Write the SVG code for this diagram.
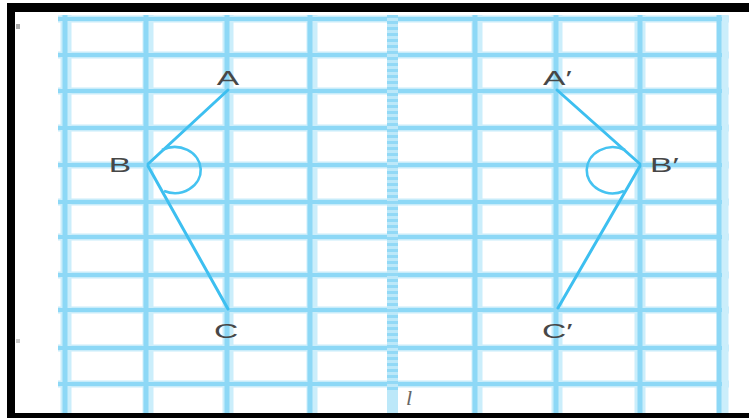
<svg xmlns="http://www.w3.org/2000/svg" width="749" height="418" viewBox="0 0 749 418">
<style>
.vh{stroke:#cbeefb;stroke-width:11;fill:none}
.vc{stroke:#8dd8f6;stroke-width:5;fill:none}
.hh{stroke:#c8ecfa;stroke-width:7;fill:none}
.hc{stroke:#8dd8f6;stroke-width:4;fill:none}
.seg{stroke:#3dbff0;stroke-width:3;fill:none;stroke-linecap:round}
.arc{stroke:#45c3f1;stroke-width:2.6;fill:none}
.lbl{font-family:"Liberation Sans",Arial,sans-serif;font-size:21px;fill:#474747;text-anchor:middle}
</style>
<rect width="749" height="418" fill="#fff"/>
<g id="grid">
<g class="hh">
<line x1="58" y1="19" x2="729" y2="19"/><line x1="58" y1="55" x2="729" y2="55"/><line x1="58" y1="91" x2="729" y2="91"/><line x1="58" y1="128" x2="729" y2="128"/><line x1="58" y1="165" x2="729" y2="165"/><line x1="58" y1="202" x2="729" y2="202"/><line x1="58" y1="237" x2="729" y2="237"/><line x1="58" y1="275" x2="729" y2="275"/><line x1="58" y1="310" x2="729" y2="310"/><line x1="58" y1="348" x2="729" y2="348"/><line x1="58" y1="384" x2="729" y2="384"/>
</g>
<g class="vh">
<line x1="66" y1="15" x2="66" y2="413"/><line x1="148" y1="15" x2="148" y2="413"/><line x1="228" y1="15" x2="228" y2="413"/><line x1="312" y1="15" x2="312" y2="413"/><line x1="477" y1="15" x2="477" y2="413"/><line x1="557" y1="15" x2="557" y2="413"/><line x1="640" y1="15" x2="640" y2="413"/><line x1="723" y1="15" x2="723" y2="413"/>
</g>
<g class="hc">
<line x1="58" y1="19" x2="722" y2="19"/><line x1="58" y1="55" x2="722" y2="55"/><line x1="58" y1="91" x2="722" y2="91"/><line x1="58" y1="128" x2="722" y2="128"/><line x1="58" y1="165" x2="722" y2="165"/><line x1="58" y1="202" x2="722" y2="202"/><line x1="58" y1="237" x2="722" y2="237"/><line x1="58" y1="275" x2="722" y2="275"/><line x1="58" y1="310" x2="722" y2="310"/><line x1="58" y1="348" x2="722" y2="348"/><line x1="58" y1="384" x2="722" y2="384"/>
</g>
<g class="vc">
<line x1="65" y1="15" x2="65" y2="413"/><line x1="146" y1="15" x2="146" y2="413"/><line x1="227" y1="15" x2="227" y2="413"/><line x1="310" y1="15" x2="310" y2="413"/><line x1="475" y1="15" x2="475" y2="413"/><line x1="556" y1="15" x2="556" y2="413"/><line x1="640" y1="15" x2="640" y2="413"/><line x1="719" y1="15" x2="719" y2="413"/>
</g>
</g>
<g id="axis">
<rect x="387" y="15" width="11" height="398" fill="#bce8f9"/>
<line x1="392.5" y1="15" x2="392.5" y2="390" stroke="#92d9f6" stroke-width="11" stroke-dasharray="3 3"/>
<text x="409" y="405" font-family="'Liberation Serif',serif" font-style="italic" font-size="22" fill="#666" text-anchor="middle">l</text>
</g>
<g id="connectors">
<line class="seg" x1="228" y1="90" x2="148" y2="164"/>
<line class="seg" x1="148" y1="166" x2="228" y2="309"/>
<path class="arc" d="M 162 150 A 26 23 0 1 1 164 191"/>
<line class="seg" x1="557" y1="90" x2="640" y2="164"/>
<line class="seg" x1="640" y1="166" x2="558" y2="308"/>
<path class="arc" d="M 625 150 A 26 23 0 1 0 624 191"/>
</g>
<g id="node-A"><text class="lbl" transform="translate(228,85) scale(1.6,1)">A</text></g>
<g id="node-B"><text class="lbl" transform="translate(120,172) scale(1.6,1)">B</text></g>
<g id="node-C"><text class="lbl" transform="translate(226,338) scale(1.6,1)">C</text></g>
<g id="node-A2"><text class="lbl" style="text-anchor:start" transform="translate(543,85) scale(1.6,1)">A′</text></g>
<g id="node-B2"><text class="lbl" style="text-anchor:start" transform="translate(650,172) scale(1.6,1)">B′</text></g>
<g id="node-C2"><text class="lbl" style="text-anchor:start" transform="translate(542,338) scale(1.6,1)">C′</text></g>
<g id="frame">
<rect x="7" y="3" width="742" height="9" fill="#000"/>
<rect x="7" y="3" width="8" height="415" fill="#000"/>
<rect x="7" y="413" width="742" height="5" fill="#000"/>
<rect x="16" y="24" width="4" height="5" fill="#aaa"/>
<rect x="16" y="339" width="4" height="4" fill="#ccc"/>
</g>
</svg>
